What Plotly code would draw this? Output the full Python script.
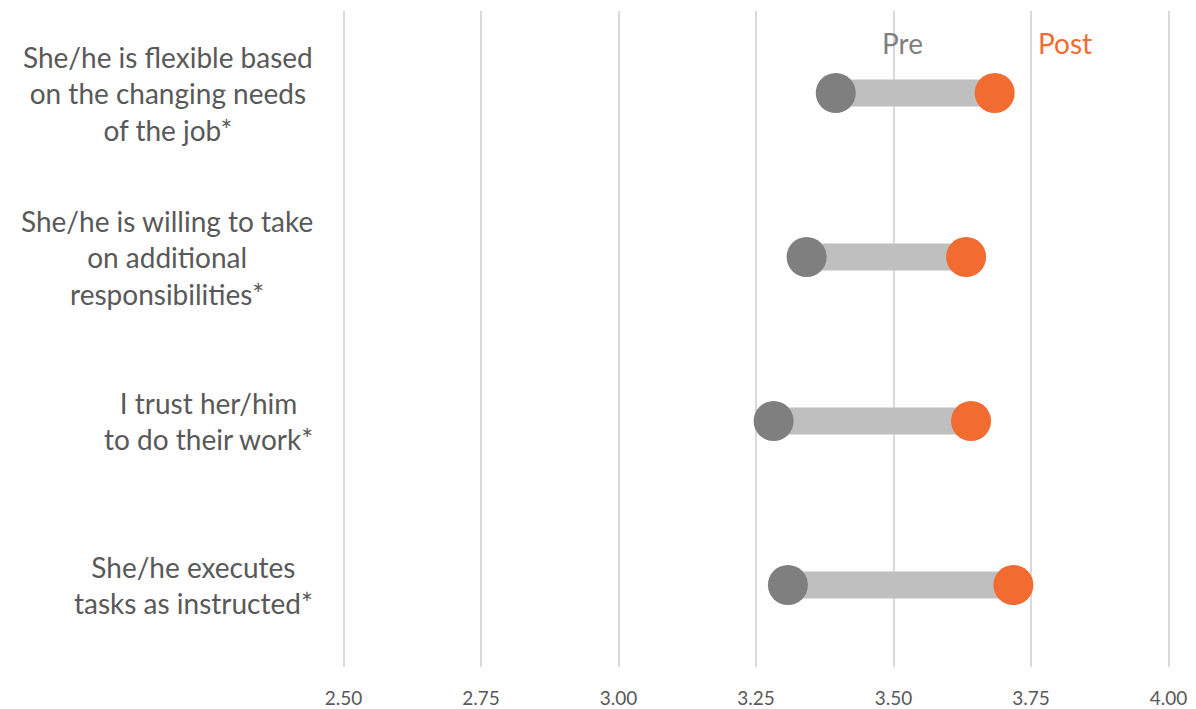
import plotly.graph_objects as go

# Survey items (top to bottom) and mean ratings before / after
items = [
    "She/he is flexible based<br>on the changing needs<br>of the job*",
    "She/he is willing to take<br>on additional<br>responsibilities*",
    "I trust her/him<br>to do their work*",
    "She/he executes<br>tasks as instructed*",
]
pre = [3.395, 3.342, 3.282, 3.308]
post = [3.684, 3.632, 3.641, 3.718]
tick_vals = [2.50, 2.75, 3.00, 3.25, 3.50, 3.75, 4.00]
tick_text = ["2.50", "2.75", "3.00", "3.25", "3.50", "3.75", "4.00"]

cats = [f"item{i}" for i in range(len(items))]

GREY = "#7F7F7F"
ORANGE = "#F26B31"
BAR = "#BFBFBF"
TEXT = "#595959"
FONT = "Lato"

fig = go.Figure()

# connecting bars between pre and post
for c, a, b in zip(cats, pre, post):
    fig.add_trace(go.Scatter(
        x=[a, b], y=[c, c], mode="lines",
        line=dict(color=BAR, width=27),
        hoverinfo="skip", showlegend=False,
    ))

fig.add_trace(go.Scatter(
    x=pre, y=cats, mode="markers", name="Pre",
    marker=dict(color=GREY, size=40, line=dict(width=0)),
    showlegend=False,
))
fig.add_trace(go.Scatter(
    x=post, y=cats, mode="markers", name="Post",
    marker=dict(color=ORANGE, size=40, line=dict(width=0)),
    showlegend=False,
))

# item labels on the left, centred multi-line text
n = len(cats)
for i, label in enumerate(items):
    fig.add_annotation(
        x=-0.0273, xref="paper", y=1 - (i + 0.5) / n, yref="paper",
        text=label, showarrow=False, xanchor="right", yanchor="middle",
        align="center", font=dict(family=FONT, size=28, color=TEXT),
    )

# series labels above the first row
fig.add_annotation(x=3.516, y=0.951, xref="x", yref="paper", text="Pre",
                   showarrow=False, xanchor="center", yanchor="middle",
                   font=dict(family=FONT, size=28, color=GREY))
fig.add_annotation(x=3.812, y=0.951, xref="x", yref="paper", text="Post",
                   showarrow=False, xanchor="center", yanchor="middle",
                   font=dict(family=FONT, size=28, color=ORANGE))

fig.update_layout(
    width=1196, height=709,
    margin=dict(l=337.8, r=22.2, t=11, b=42, autoexpand=False),
    paper_bgcolor="white", plot_bgcolor="white",
    font=dict(family=FONT, color=TEXT),
    xaxis=dict(
        range=[2.49, 4.01], tickvals=tick_vals, ticktext=tick_text,
        showgrid=True, gridcolor="#D9D9D9", gridwidth=2,
        zeroline=False, showline=False, ticks="",
        tickfont=dict(family=FONT, size=19, color=TEXT),
        ticklabelstandoff=18, automargin=False,
    ),
    yaxis=dict(
        type="category", categoryorder="array", categoryarray=cats,
        range=[3.5, -0.5], showticklabels=False, showgrid=False,
        zeroline=False, showline=False, ticks="", automargin=False,
    ),
)

fig.write_html("out.html")
